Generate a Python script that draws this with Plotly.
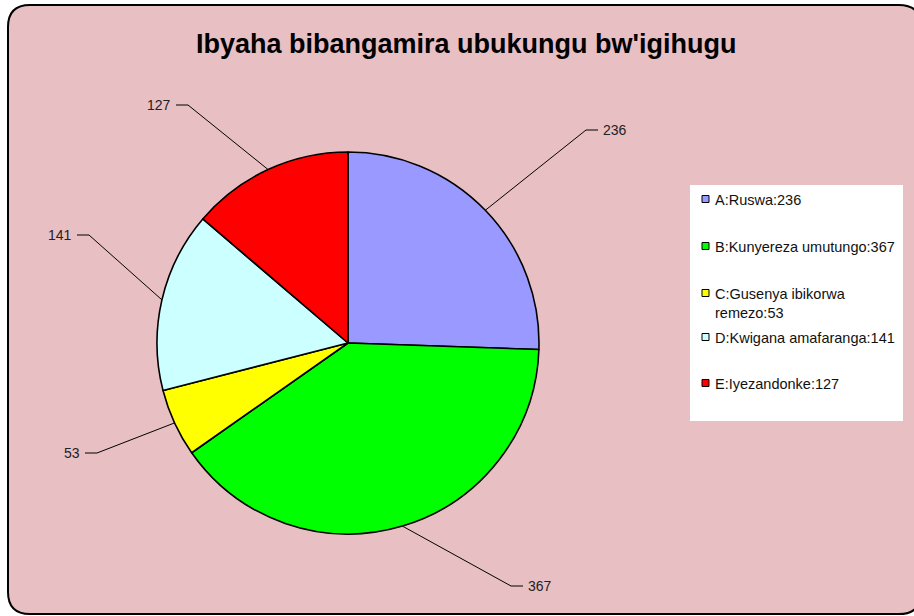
import math
import plotly.graph_objects as go

# ---- data ----
codes = ["A", "B", "C", "D", "E"]
names = ["Ruswa", "Kunyereza umutungo", "Gusenya ibikorwa remezo", "Kwigana amafaranga", "Iyezandonke"]
legend_names = ["A:Ruswa:236", "B:Kunyereza umutungo:367", "C:Gusenya ibikorwa<br>remezo:53",
                "D:Kwigana amafaranga:141", "E:Iyezandonke:127"]
values = [236, 367, 53, 141, 127]
colors = ["#9999FF", "#00FF00", "#FFFF00", "#CCFFFF", "#FF0000"]
title = "Ibyaha bibangamira ubukungu bw'igihugu"

# ---- layout constants (pixels) ----
W, H = 914, 616
CX, CY, R = 348, 343, 191
# label elbow points and direction of horizontal tick (+1 right, -1 left)
label_elbows = [(586, 130, 1), (511, 586, 1), (97, 453, -1), (89, 235, -1), (188, 105, -1)]
TICK = 12
FONT = "Arial, Liberation Sans, sans-serif"


def px(x):
    return x / W


def py(y):
    return 1 - y / H


fig = go.Figure()
fig.add_trace(go.Pie(
    labels=legend_names, values=values, sort=False, direction="clockwise", rotation=0,
    marker=dict(colors=colors, line=dict(color="black", width=1.6)),
    textinfo="none", hoverinfo="label+value", showlegend=False,
    domain=dict(x=[px(CX - R), px(CX + R)], y=[py(CY + R), py(CY - R)]),
))

shapes = []
# rounded background border
x0, y0, x1, y1, rr = 8, 5, 921, 614, 22
path = (f"M {px(x0+rr)},{py(y0)} L {px(x1-rr)},{py(y0)} "
        f"Q {px(x1)},{py(y0)} {px(x1)},{py(y0+rr)} L {px(x1)},{py(y1-rr)} "
        f"Q {px(x1)},{py(y1)} {px(x1-rr)},{py(y1)} L {px(x0+rr)},{py(y1)} "
        f"Q {px(x0)},{py(y1)} {px(x0)},{py(y1-rr)} L {px(x0)},{py(y0+rr)} "
        f"Q {px(x0)},{py(y0)} {px(x0+rr)},{py(y0)} Z")
shapes.append(dict(type="path", xref="paper", yref="paper", path=path,
                   fillcolor="#E8BFC2", line=dict(color="black", width=2), layer="below"))

annotations = []
total = sum(values)
cum = 0
for i, v in enumerate(values):
    mid = (cum + v / 2) / total * 2 * math.pi
    cum += v
    ex = CX + R * math.sin(mid)
    ey = CY - R * math.cos(mid)
    bx, by, d = label_elbows[i]
    tx = bx + d * TICK
    shapes.append(dict(type="path", xref="paper", yref="paper",
                       path=f"M {px(ex)},{py(ey)} L {px(bx)},{py(by)} L {px(tx)},{py(by)}",
                       line=dict(color="black", width=1)))
    annotations.append(dict(x=px(tx + d * 3), y=py(by), xref="paper", yref="paper",
                            text=str(v), showarrow=False,
                            xanchor="left" if d > 0 else "right", yanchor="middle",
                            font=dict(family=FONT, size=14, color="#222222")))

# manual legend
LX0, LY0, LX1, LY1 = 690, 185, 903, 421
shapes.append(dict(type="rect", xref="paper", yref="paper",
                   x0=px(LX0), x1=px(LX1), y0=py(LY1), y1=py(LY0),
                   fillcolor="white", line=dict(width=0)))
legend_y = [199, 246, 293, 337, 383]
for i, name in enumerate(legend_names):
    yy = legend_y[i]
    shapes.append(dict(type="rect", xref="paper", yref="paper",
                       x0=px(702), x1=px(709), y0=py(yy + 3.5), y1=py(yy - 3.5),
                       fillcolor=colors[i], line=dict(color="black", width=1)))
    annotations.append(dict(x=px(713), y=py(yy - 9), xref="paper", yref="paper",
                            text=name, showarrow=False, xanchor="left", yanchor="top",
                            align="left",
                            font=dict(family=FONT, size=14.5, color="#111111")))

annotations.append(dict(x=px(466), y=py(44), xref="paper", yref="paper",
                        text=f"<b>{title}</b>", showarrow=False,
                        xanchor="center", yanchor="middle",
                        font=dict(family=FONT, size=27, color="black")))

fig.update_layout(width=W, height=H, margin=dict(l=0, r=0, t=0, b=0),
                  paper_bgcolor="white", plot_bgcolor="white",
                  shapes=shapes, annotations=annotations, showlegend=False)
fig.write_html("out.html", config={"displayModeBar": False},
               post_script="document.body.style.margin='0';")
